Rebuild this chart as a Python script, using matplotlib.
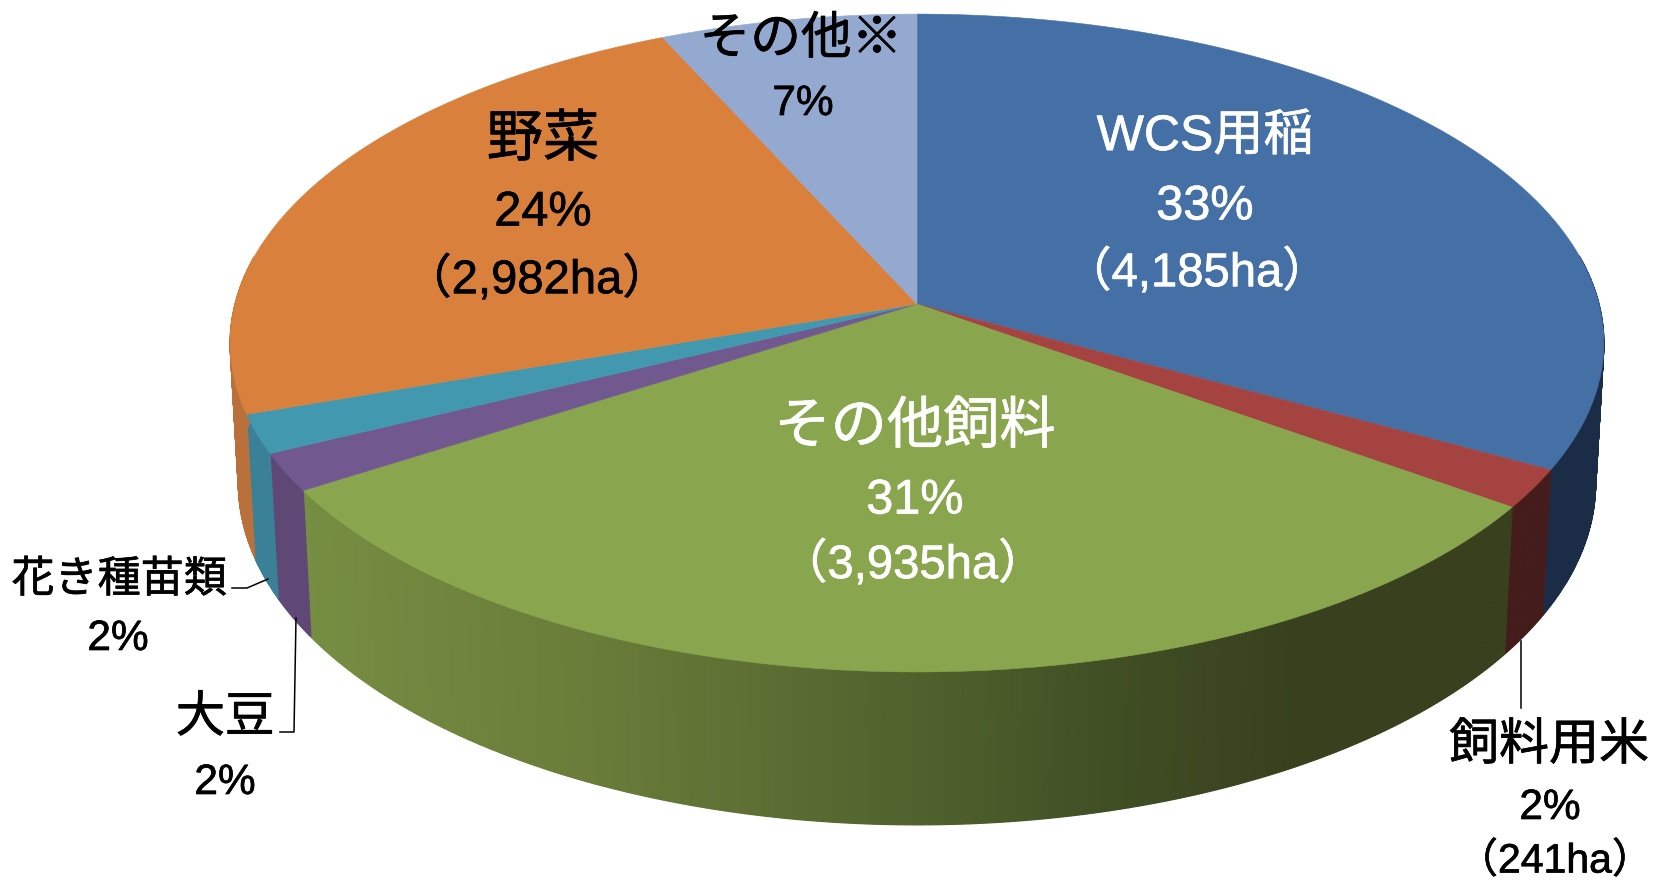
import numpy as np
import matplotlib
matplotlib.use("Agg")
import matplotlib.pyplot as plt
import matplotlib.patheffects as pe
from matplotlib.patches import Polygon

plt.rcParams['font.family'] = ['Liberation Sans', 'Noto Sans CJK JP', 'DejaVu Sans']

# data (hectares; clockwise from 12 o'clock)
categories = ['WCS用稲', '飼料用米', 'その他飼料', '大豆', '花き種苗類', '野菜', 'その他※']
hectares = [4185, 241, 3935, 235, 240, 2982, 860]
percents = ['33%', '2%', '31%', '2%', '2%', '24%', '7%']
area_labels = ['（4,185ha）', '（241ha）', '（3,935ha）', '', '', '（2,982ha）', '']
top_colors = ['#4570a5', '#a54341', '#89a54e', '#71588f', '#4198af', '#d8803c', '#93a9cf']
side_colors = ['#1a2c46', '#451c1c', None, '#5f4876', '#3a8096', '#b9703a', '#6f7f9c']

# green wall gradient: screen x -> colour
grad_x = [300, 620, 912, 1120, 1295, 1510]
grad_rgb = np.array([[118, 142, 66], [104, 122, 56], [80, 98, 45], [64, 78, 36], [56, 64, 30], [56, 64, 30]]) / 255

W, H = 1653, 881
CX, CY, A, B, K, DEPTH, M = 917, 304, 682, 324.3, 0.1186, 141, 0.012


def project(theta, z=0.0):
    X, Y = np.sin(theta), np.cos(theta)
    w = 1 + K * Y + M * z
    return CX + A * X / w, CY + (-B * Y + DEPTH * z) / w


fig = plt.figure(figsize=(W / 100, H / 100), dpi=100)
ax = fig.add_axes([0, 0, 1, 1])
ax.set_xlim(0, W)
ax.set_ylim(H, 0)
ax.axis('off')

fractions = np.array(hectares) / sum(hectares)
edges = np.concatenate([[0], np.cumsum(fractions)]) * 2 * np.pi

# walls
for i in range(len(hectares)):
    t0, t1 = edges[i], edges[i + 1]
    n = max(4, int((t1 - t0) / np.radians(0.3)))
    ts = np.linspace(t0, t1, n + 1)
    for a, b in zip(ts[:-1], ts[1:]):
        mid = (a + b) / 2
        if np.cos(mid) > 0.15:
            continue
        xa, ya = project(a)
        xb, yb = project(b)
        xc, yc = project(b, 1)
        xd, yd = project(a, 1)
        if side_colors[i] is None:
            xm = (xa + xb + xc + xd) / 4
            col = [np.interp(xm, grad_x, grad_rgb[:, c]) for c in range(3)]
        else:
            col = side_colors[i]
        ax.add_patch(Polygon([(xa, ya), (xb, yb), (xc, yc), (xd, yd)], closed=True,
                             facecolor=col, edgecolor=col, lw=0.9, zorder=2))

# top faces
for i in range(len(hectares)):
    ts = np.linspace(edges[i], edges[i + 1], 200)
    xs, ys = project(ts)
    pts = np.vstack([[CX, CY], np.column_stack([xs, ys])])
    ax.add_patch(Polygon(pts, closed=True, facecolor=top_colors[i], edgecolor=top_colors[i],
                         lw=0.4, zorder=3))

# leader lines
ax.plot([232, 247, 268], [588, 588, 579], color='black', lw=1.1, zorder=4)
ax.plot([280, 294, 296], [732, 732, 618], color='black', lw=1.1, zorder=4)
ax.plot([1521, 1521], [641, 708], color='black', lw=1.1, zorder=4)


def label(x, y, s, size, color='black'):
    t = ax.text(x, y, s, fontsize=size, color=color, ha='center', va='center', zorder=5)
    t.set_path_effects([pe.withStroke(linewidth=0.5, foreground=color)])


white = 'white'
label(1205, 137, categories[0], 36, white)
label(1205, 207, percents[0], 35, white)
label(1197, 273, area_labels[0], 34, white)

label(915, 429, categories[2], 40.5, white)
label(915, 501, percents[2], 35, white)
label(913, 565, area_labels[2], 34, white)

label(543, 142, categories[5], 40.5)
label(543, 213, percents[5], 35)
label(537, 280, area_labels[5], 34)

label(801, 40, categories[6], 36.5)
label(803, 104, percents[6], 30.5)

label(119, 581, categories[4], 31)
label(118, 639, percents[4], 30.5)

label(225, 719, categories[3], 35.5)
label(225, 783, percents[3], 30.5)

label(1549, 746, categories[1], 36)
label(1550, 808, percents[1], 30.5)
label(1555, 861, area_labels[1], 29.5)

fig.savefig('out.png', dpi=100, facecolor='white')
